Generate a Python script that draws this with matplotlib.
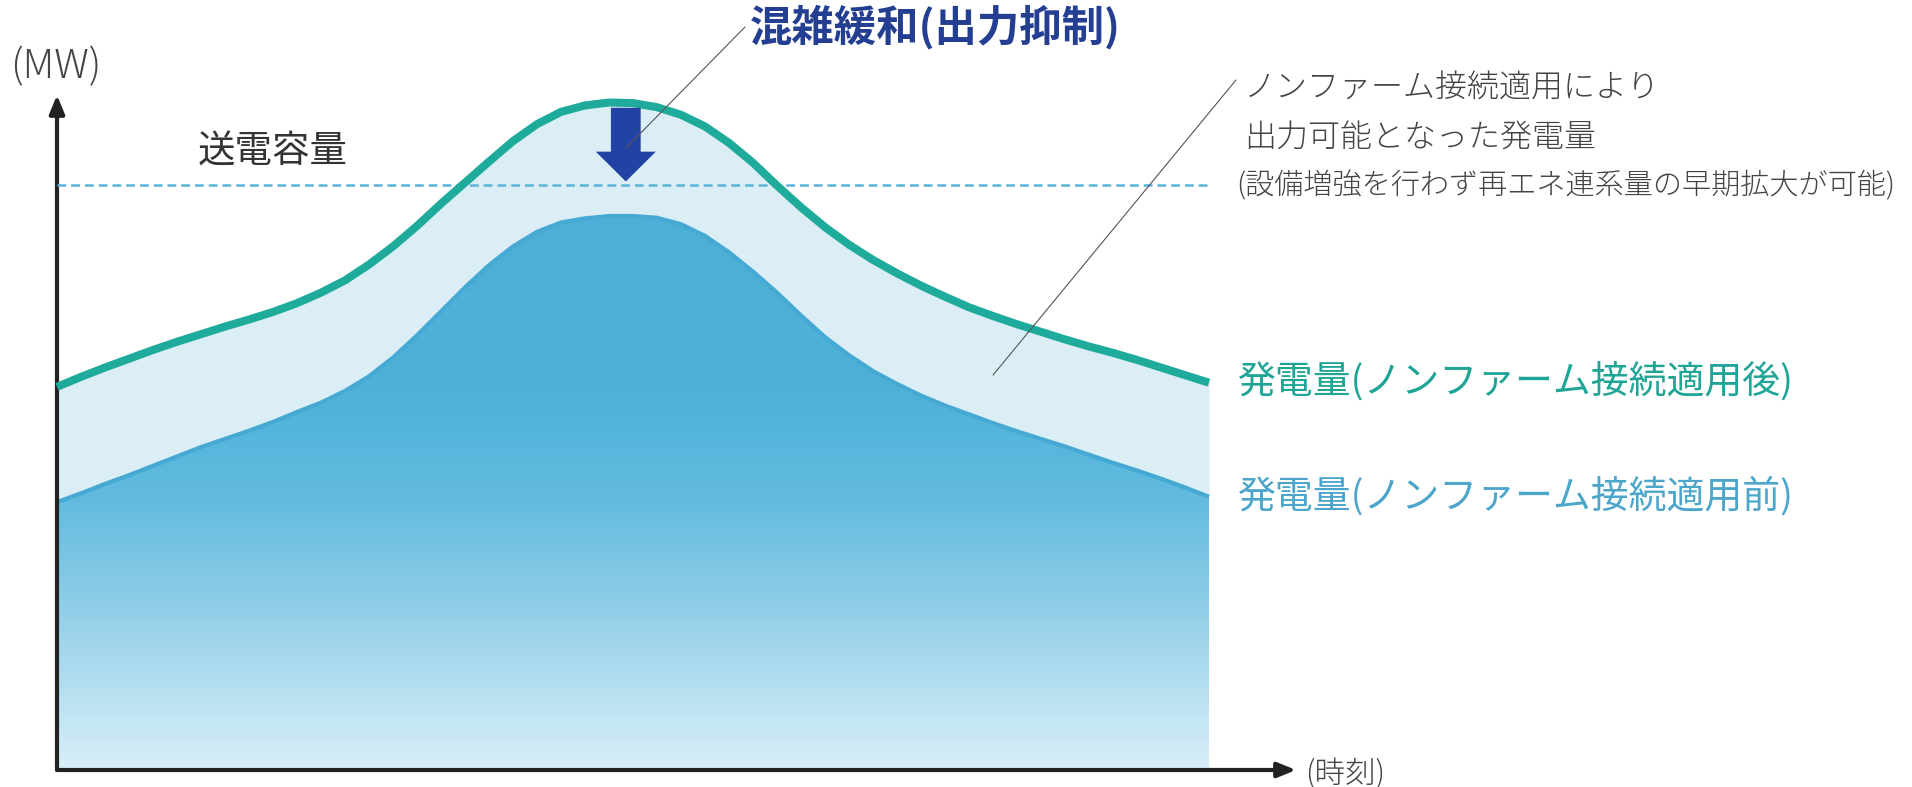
import numpy as np
import matplotlib
matplotlib.use("Agg")
import matplotlib.pyplot as plt
from matplotlib.colors import LinearSegmentedColormap
from matplotlib.patches import FancyArrow

plt.rcParams['font.family'] = ['Noto Sans CJK JP', 'DejaVu Sans']

# 時刻 (h, 30分毎) と発電量 (MW, 送電容量 = 100)
jikoku = np.arange(0, 24.5, 0.5)
hatsuden_go = [65.5, 67.2, 68.8, 70.3, 71.8, 73.2, 74.5, 75.8, 77.0, 78.3,
               79.8, 81.6, 83.7, 86.4, 89.5, 93.0, 96.8, 100.4, 104.0, 107.5,
               110.4, 112.5, 113.6, 114.1, 114.0, 113.3, 112.0, 110.0, 107.2, 103.8,
               99.9, 96.2, 92.8, 89.8, 87.2, 84.9, 82.8, 80.9, 79.1, 77.6,
               76.2, 74.9, 73.6, 72.4, 71.3, 70.1, 68.8, 67.5, 66.2]
hatsuden_mae = [45.8, 47.3, 48.9, 50.4, 52.0, 53.6, 55.2, 56.6, 58.0, 59.5,
                61.2, 62.8, 64.8, 67.3, 70.5, 74.3, 78.4, 82.5, 86.3, 89.5,
                92.0, 93.6, 94.3, 94.7, 94.7, 94.4, 93.3, 91.3, 88.5, 85.2,
                81.6, 77.7, 74.0, 70.9, 68.2, 66.0, 64.0, 62.3, 60.8, 59.3,
                57.9, 56.6, 55.3, 53.9, 52.5, 51.2, 49.8, 48.3, 46.7]
soden_yoryo = 100
yokusei_jikoku = 11.85

W, H = 1912, 787
fig = plt.figure(figsize=(W / 100, H / 100), dpi=100)
# 軸の位置 (px): 左 57, 下 770, 右 1296, 上 95
ax = fig.add_axes([57 / W, (H - 770) / H, (1296 - 57) / W, (770 - 95) / H])
xmax = (1296 - 57) / 48
ymax = (770 - 95) / 5.85
ax.set_xlim(0, xmax)
ax.set_ylim(0, ymax)
ax.axis('off')

x = np.array(jikoku, dtype=float)
go = np.array(hatsuden_go)
mae = np.array(hatsuden_mae)

# 出力可能となった発電量 (薄い帯)
ax.fill_between(x, mae, go, color='#dbeef6', lw=0, zorder=1)

# 適用前の発電量 (グラデーション)
poly = ax.fill_between(x, 0, mae, color='none', lw=0, zorder=2)
cmap = LinearSegmentedColormap.from_list('grad', [
    (0.0, '#d9eff8'), (25 / ymax, '#97d1ea'), (46 / ymax, '#62bbdf'),
    (65 / ymax, '#4eb1d8'), (1.0, '#4aaed5')])
grad = np.linspace(0, 1, 400).reshape(-1, 1)
im = ax.imshow(grad, cmap=cmap, aspect='auto', origin='lower',
               extent=(0, x[-1], 0, ymax), zorder=2)
im.set_clip_path(poly.get_paths()[0], transform=ax.transData)
ax.plot(x, mae, color='#45a9d3', lw=3, zorder=3, solid_capstyle='butt',
        solid_joinstyle='round')

# 送電容量
ax.plot([0, x[-1]], [soden_yoryo, soden_yoryo], color='#5ab4d8', lw=1.8,
        dashes=(3.5, 2), zorder=4)

# 適用後の発電量
ax.plot(x, go, color='#1eab9c', lw=5.8, zorder=5, solid_capstyle='butt',
        solid_joinstyle='round', clip_on=False)

# 出力抑制の矢印
ax.add_patch(FancyArrow(yokusei_jikoku, 113.2, 0, -12.6, width=0.62, head_width=1.25,
                        head_length=5.1, length_includes_head=True,
                        color='#2243a3', lw=0, zorder=6))

# 軸
ax.annotate('', xy=(0, 1.0), xytext=(0, 0), xycoords='axes fraction',
            arrowprops=dict(arrowstyle='-|>,head_length=1.1,head_width=0.45',
                            color='#222222', lw=3, shrinkA=0, shrinkB=0))
ax.annotate('', xy=(1.0, 0), xytext=(0, 0), xycoords='axes fraction',
            arrowprops=dict(arrowstyle='-|>,head_length=1.1,head_width=0.45',
                            color='#222222', lw=3, shrinkA=0, shrinkB=0))


def fx(px):
    return px / W


def fy(py):
    return 1 - py / H


# 引き出し線
ax.annotate('', xy=(yokusei_jikoku, 106.3), xytext=(fx(745), fy(27)),
            textcoords='figure fraction',
            arrowprops=dict(arrowstyle='-', color='#555555', lw=0.8,
                            shrinkA=0, shrinkB=0), zorder=7)
ax.annotate('', xy=(19.5, 67.5), xytext=(fx(1236), fy(80)),
            textcoords='figure fraction',
            arrowprops=dict(arrowstyle='-', color='#555555', lw=0.8,
                            shrinkA=0, shrinkB=0), zorder=7)

# テキスト
fig.text(fx(10), fy(67), '(MW)', fontsize=29, color='#444444', va='center',
         fontweight='light')
fig.text(fx(1305), fy(774), '(時刻)', fontsize=22, color='#444444', va='center',
         fontweight='light')
fig.text(fx(198), fy(152), '送電容量', fontsize=27, color='#333333', va='center')
fig.text(fx(750), fy(27), '混雑緩和(出力抑制)', fontsize=30.5, color='#243f91',
         va='center', fontweight='bold')
fig.text(fx(1244), fy(88), 'ノンファーム接続適用により', fontsize=23, color='#444444',
         va='center', fontweight='light')
fig.text(fx(1244), fy(138), '出力可能となった発電量', fontsize=23, color='#444444',
         va='center', fontweight='light')
fig.text(fx(1236), fy(186), '(設備増強を行わず再エネ連系量の早期拡大が可能)', fontsize=21,
         color='#444444', va='center', fontweight='light')
fig.text(fx(1238), fy(382), '発電量(ノンファーム接続適用後)', fontsize=27.3, color='#1fa595',
         va='center')
fig.text(fx(1238), fy(497), '発電量(ノンファーム接続適用前)', fontsize=27.3, color='#4ca6cb',
         va='center')

fig.savefig('out.png', dpi=100, facecolor='white')
